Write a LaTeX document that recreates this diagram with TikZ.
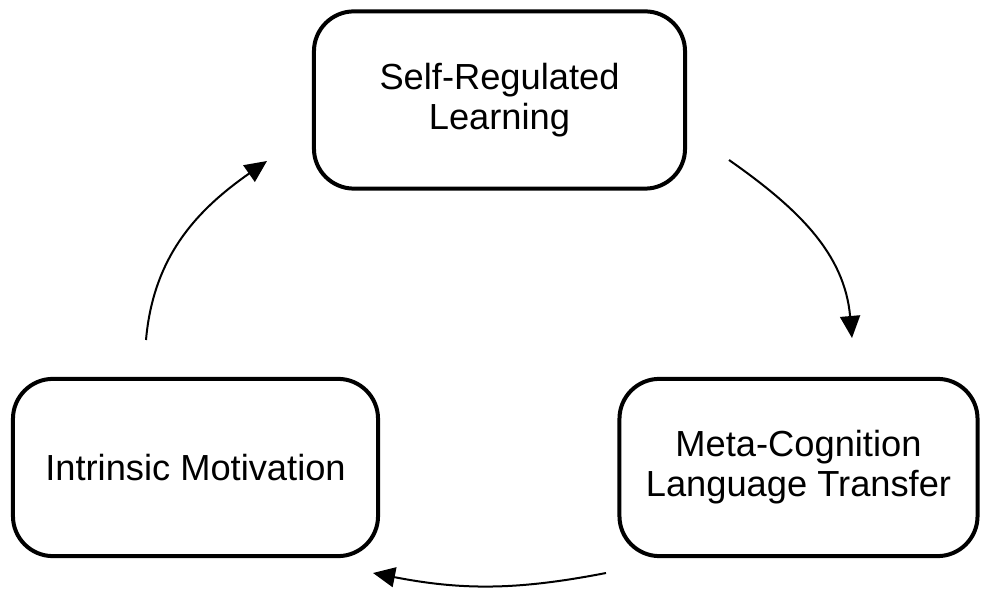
\documentclass[tikz,border=0pt]{standalone}
\usepackage{fontspec}
\setmainfont{Liberation Sans}
\usepackage{tikz}
\usetikzlibrary{arrows,arrows.meta,shapes,positioning}

\begin{document}
\begin{tikzpicture}[x=0.025cm, y=-0.025cm,
        stage/.style={draw, rectangle, rounded corners=1cm, line width=0.1cm,
            align=center, font=\fontsize{25.8pt}{28.5pt}\selectfont,
            minimum height=4.43cm},
        cycle/.style={line width=0.05cm, -{Triangle[length=0.55cm,width=0.5cm]}}]
        \useasboundingbox (0,0) rectangle (982,589);

        \node[stage, minimum width=9.275cm] (srl) at (499.5,100) {Self-Regulated\\Learning} ;
        \node[stage, minimum width=9.125cm] (im) at (195.5,467.5) {Intrinsic Motivation} ;
        \node[stage, minimum width=8.95cm] (mclt) at (798.5,467.5) {Meta-Cognition\\Language Transfer} ;

        \coordinate (srl-out) at (729,160);
        \coordinate (mclt-in) at (852,338);
        \coordinate (mclt-out) at (606,573);
        \coordinate (im-in) at (373,573);
        \coordinate (im-out) at (146,340);
        \coordinate (srl-in) at (267,161);

        \draw[cycle] (srl-out) to[out=-35,in=95] (mclt-in);
        \draw[cycle] (mclt-out) to[bend left=11] (im-in);
        \draw[cycle] (im-out) to[out=85,in=-145] (srl-in);

    \end{tikzpicture}
\end{document}
